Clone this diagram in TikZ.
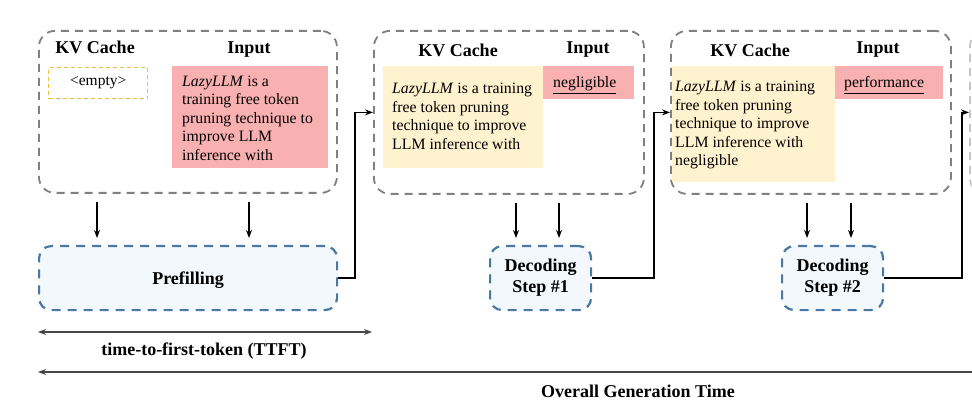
\documentclass[tikz,border=0pt]{standalone}
\usepackage{fontspec}
\setmainfont{Liberation Serif}
\usetikzlibrary{arrows.meta}
\definecolor{pinkfill}{RGB}{248,176,176}
\definecolor{yellowfill}{RGB}{255,242,206}
\definecolor{bluefill}{RGB}{242,248,252}
\definecolor{blueline}{RGB}{72,120,163}
\definecolor{grayline}{RGB}{128,128,128}
\definecolor{yellowline}{RGB}{238,190,60}
\definecolor{timeline}{RGB}{70,70,70}
\begin{document}
\begin{tikzpicture}[x=1pt,y=-1pt,
  graybox/.style={draw=grayline, line width=1.8pt, dash pattern=on 8pt off 6pt,
    rounded corners=16pt, anchor=north west, inner sep=0pt},
  bluebox/.style={draw=blueline, fill=bluefill, line width=2.2pt, dash pattern=on 9pt off 7pt,
    rounded corners=12pt, anchor=north west, inner sep=0pt, align=center,
    font=\fontsize{18}{21}\selectfont\bfseries},
  header/.style={font=\fontsize{18}{21}\selectfont\bfseries, inner sep=0pt, anchor=base},
  body/.style={font=\fontsize{15.8}{18.5}\selectfont, align=left, inner sep=0pt, anchor=north west},
  word/.style={font=\fontsize{15.8}{18.5}\selectfont, inner sep=0pt, anchor=base west},
  pinkbox/.style={fill=pinkfill, anchor=north west, inner sep=0pt},
  yellowbox/.style={fill=yellowfill, anchor=north west, inner sep=0pt},
  emptybox/.style={draw=yellowline, line width=1.4pt, dash pattern=on 4pt off 3pt,
    anchor=north west, inner sep=0pt, font=\fontsize{15.5}{18}\selectfont},
  flow/.style={-{Stealth[length=8pt,width=6pt]}, line width=1.5pt},
  span/.style={line width=1.5pt, draw=timeline},
  timelabel/.style={font=\fontsize{18}{21}\selectfont\bfseries, inner sep=0pt, anchor=base},
]
\clip (0,0) rectangle (972,414);

% ---- Box 1 ----
\node[graybox, minimum width=298pt, minimum height=162pt] (box1) at (38,30) {};
\node[header] (kv1) at (95,54) {KV Cache};
\node[header] (in1) at (249,54) {Input};
\node[emptybox, minimum width=99pt, minimum height=31pt] (empty1) at (48,67) {<empty>};
\node[pinkbox, minimum width=156pt, minimum height=102pt] (pink1) at (172,66) {};
\node[body] (txt1) at (182,75.5) {\textit{LazyLLM} is a\\training free token\\pruning technique to\\improve LLM\\inference with};

% ---- Box 2 ----
\node[graybox, minimum width=270pt, minimum height=163pt] (box2) at (373,30) {};
\node[header] (kv2) at (458,57) {KV Cache};
\node[header] (in2) at (588,54) {Input};
\node[yellowbox, minimum width=160pt, minimum height=102pt] (yel2) at (383,66) {};
\node[pinkbox, minimum width=91pt, minimum height=33pt] (pink2) at (543,66) {};
\node[body] (txt2) at (392,83) {\textit{LazyLLM} is a training\\free token pruning\\technique to improve\\LLM inference with};
\node[word] (w2) at (553,88) {\underline{negligible}};

% ---- Box 3 ----
\node[graybox, minimum width=280pt, minimum height=163pt] (box3) at (670,30) {};
\node[header] (kv3) at (750,57) {KV Cache};
\node[header] (in3) at (878,54) {Input};
\node[yellowbox, minimum width=163pt, minimum height=116pt] (yel3) at (672,66) {};
\node[pinkbox, minimum width=108pt, minimum height=33pt] (pink3) at (835,66) {};
\node[body] (txt3) at (675,81) {\textit{LazyLLM} is a training\\free token pruning\\technique to improve\\LLM inference with\\negligible};
\node[word] (w3) at (844,88) {\underline{performance}};

% ---- Box 4 (cut off) ----
\node[graybox, draw=grayline!45, minimum width=280pt, minimum height=163pt] (box4) at (969,30) {};

% ---- Processing steps ----
\node[bluebox, minimum width=298pt, minimum height=64pt, text depth=0pt] (prefill) at (38,245) {Prefilling};
\node[bluebox, minimum width=101pt, minimum height=64pt] (dec1) at (489,245) {Decoding\\Step \#1};
\node[bluebox, minimum width=101pt, minimum height=64pt] (dec2) at (781,245) {Decoding\\Step \#2};

% ---- Down arrows ----
\draw[flow] ([xshift=59pt,yshift=-8pt]box1.south west) -- ([xshift=59pt,yshift=7pt]prefill.north west);
\draw[flow] ([xshift=211pt,yshift=-8pt]box1.south west) -- ([xshift=211pt,yshift=7pt]prefill.north west);
\draw[flow] ([xshift=27pt,yshift=-8pt]dec1.north west |- box2.south) -- ([xshift=27pt,yshift=7pt]dec1.north west);
\draw[flow] ([xshift=70pt,yshift=-8pt]dec1.north west |- box2.south) -- ([xshift=70pt,yshift=7pt]dec1.north west);
\draw[flow] ([xshift=26pt,yshift=-8pt]dec2.north west |- box3.south) -- ([xshift=26pt,yshift=7pt]dec2.north west);
\draw[flow] ([xshift=70pt,yshift=-8pt]dec2.north west |- box3.south) -- ([xshift=70pt,yshift=7pt]dec2.north west);

% ---- Elbow connectors ----
\draw[flow] (prefill.east) -- ++(17,0) |- (box2.west);
\draw[flow] (dec1.east) -- ++(62,0) |- (box3.west);
\draw[flow] (dec2.east) -- ++(78,0) |- (box4.west);

% ---- Time spans ----
\coordinate (ttftL) at (38,332);
\coordinate (ttftR) at (372,332);
\coordinate (ovL) at (38,372);
\coordinate (ovR) at (980,372);
\draw[span, {Stealth[length=8pt,width=6pt]}-{Stealth[length=8pt,width=6pt]}] (ttftL) -- (ttftR);
\draw[span, {Stealth[length=8pt,width=6pt]}-] (ovL) -- (ovR);
\node[timelabel] (ttft) at (204,355) {time-to-first-token (TTFT)};
\node[timelabel] (overall) at (638,397) {Overall Generation Time};
\end{tikzpicture}
\end{document}
